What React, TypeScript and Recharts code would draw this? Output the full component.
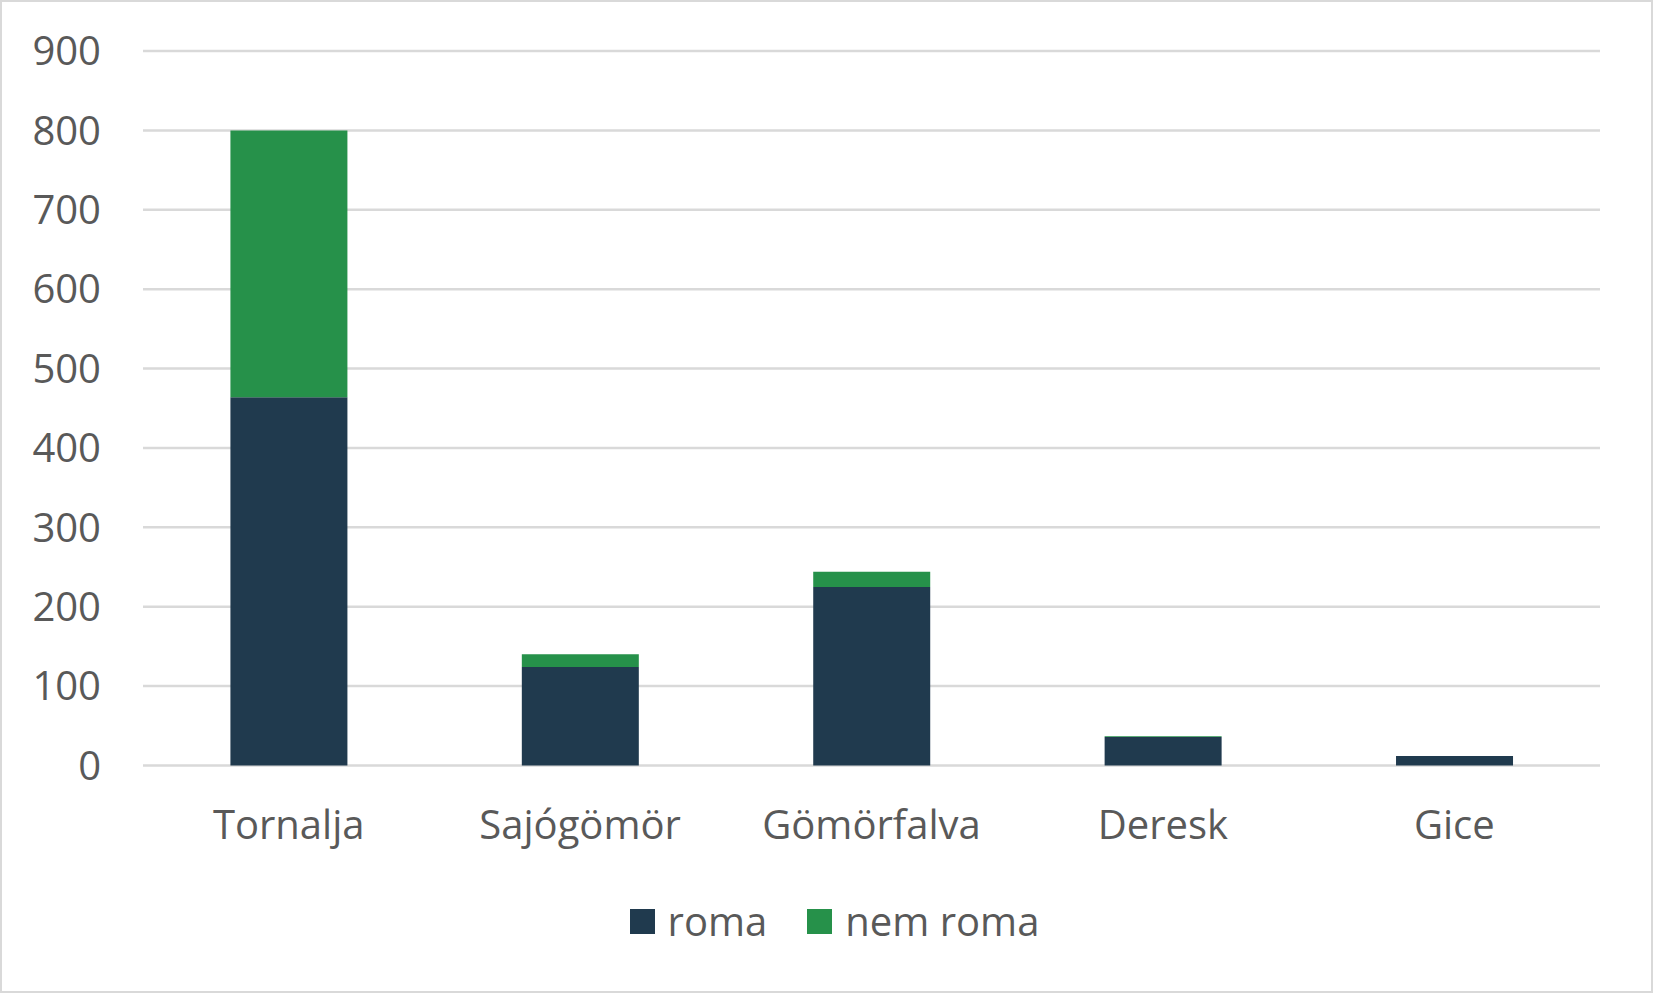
import React from 'react';
import { BarChart, Bar, XAxis, YAxis, CartesianGrid, Legend } from 'recharts';

const categories = ['Tornalja', 'Sajógömör', 'Gömörfalva', 'Deresk', 'Gice'];
const romaValues = [464, 124, 225, 36, 12];
const nemRomaValues = [336, 16, 19, 1, 0];
const yTicks = [0, 100, 200, 300, 400, 500, 600, 700, 800, 900];

const seriesNames = { roma: 'roma', nemRoma: 'nem roma' };
const COLOR_ROMA = '#203A4E';
const COLOR_NEM = '#26914A';
const TEXT = '#595959';
const FONT = '"Open Sans", "Noto Sans", sans-serif';

const data = categories.map((c, i) => ({
  name: c,
  roma: romaValues[i],
  nemRoma: nemRomaValues[i],
}));

const LegendContent = () => (
  <div
    style={{
      display: 'flex',
      justifyContent: 'center',
      alignItems: 'center',
      height: 122,
      paddingTop: 0,
      paddingBottom: 22,
      boxSizing: 'border-box',
      paddingLeft: 69,
      fontFamily: FONT,
      fontSize: 40,
      color: TEXT,
    }}
  >
    {[
      { label: seriesNames.roma, color: COLOR_ROMA },
      { label: seriesNames.nemRoma, color: COLOR_NEM },
    ].map((it, i) => (
      <div key={it.label} style={{ display: 'flex', alignItems: 'center', marginLeft: i === 0 ? 0 : 40 }}>
        <div style={{ width: 25, height: 25, background: it.color, marginRight: 13 }} />
        <span style={{ lineHeight: '40px' }}>{it.label}</span>
      </div>
    ))}
  </div>
);

export default function App() {
  return (
    <div style={{ position: 'absolute', left: 0, top: 0, width: 1653, height: 993, background: '#fff' }}>
      <BarChart
        width={1653}
        height={993}
        data={data}
        margin={{ top: 51, right: 53, left: 0, bottom: 0 }}
        barCategoryGap="30%"
      >
        <CartesianGrid vertical={false} stroke="#D9D9D9" strokeWidth={2.5} />
        <XAxis
          dataKey="name"
          axisLine={false}
          tickLine={false}
          tickSize={0}
          tickMargin={45}
          height={105.5}
          interval={0}
          tick={{ fill: TEXT, fontSize: 40, fontFamily: FONT }}
        />
        <YAxis
          domain={[0, 900]}
          ticks={yTicks}
          axisLine={false}
          tickLine={false}
          tickSize={0}
          tickMargin={42}
          width={143}
          interval={0}
          tick={{ fill: TEXT, fontSize: 40, fontFamily: FONT }}
        />
        <Legend verticalAlign="bottom" content={<LegendContent />} />
        <Bar dataKey="roma" name={seriesNames.roma} stackId="a" fill={COLOR_ROMA} isAnimationActive={false} />
        <Bar dataKey="nemRoma" name={seriesNames.nemRoma} stackId="a" fill={COLOR_NEM} isAnimationActive={false} />
      </BarChart>
      <div
        style={{
          position: 'absolute',
          left: 0,
          top: 0,
          width: 1653,
          height: 993,
          boxSizing: 'border-box',
          border: '2px solid #D9D9D9',
          pointerEvents: 'none',
        }}
      />
    </div>
  );
}
